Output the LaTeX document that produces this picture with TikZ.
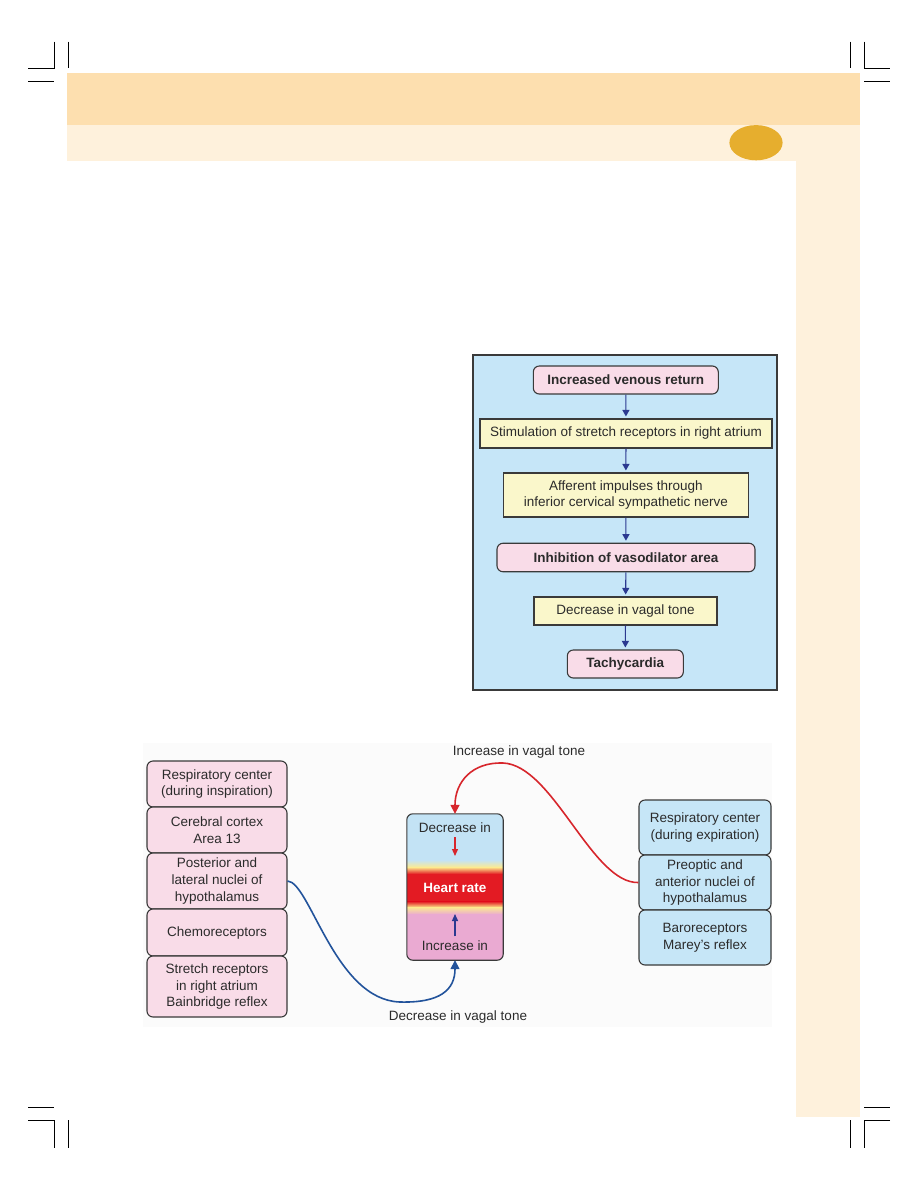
\documentclass[tikz,border=0pt]{standalone}
\usepackage{fontspec}
\setmainfont{Liberation Sans}
\usetikzlibrary{arrows.meta}
\definecolor{bandorange}{HTML}{FDDFAF}
\definecolor{bandlight}{HTML}{FEF1DC}
\definecolor{pagedot}{HTML}{E6AE2E}
\definecolor{framebg}{HTML}{C6E6F8}
\definecolor{boxpink}{HTML}{F9DCE8}
\definecolor{boxyellow}{HTML}{FAF7CB}
\definecolor{boxblue}{HTML}{C6E6F7}
\definecolor{boxline}{HTML}{3A3A3A}
\definecolor{textgray}{HTML}{2B2B2B}
\definecolor{flownavy}{HTML}{2B3990}
\definecolor{curvered}{HTML}{D7262C}
\definecolor{curveblue}{HTML}{22539B}
\definecolor{hrblue}{HTML}{C3E3F5}
\definecolor{hryellow}{HTML}{FDEB8E}
\definecolor{hrorange}{HTML}{F4A33A}
\definecolor{hrred}{HTML}{E31B23}
\definecolor{hrpink}{HTML}{EAAAD2}

\begin{document}
\begin{tikzpicture}[x=1pt,y=-1pt,
  every node/.style={font=\fontsize{13.5}{16.7}\selectfont, text=textgray, inner sep=0pt, align=center},
  pinkbox/.style={draw=boxline, line width=1.1pt, fill=boxpink, rounded corners=6pt},
  bluebox/.style={draw=boxline, line width=1.1pt, fill=boxblue, rounded corners=6pt},
  yellowbox/.style={draw=boxline, line width=1.1pt, fill=boxyellow},
  flowarrow/.style={draw=flownavy, line width=1.1pt, -{Triangle[width=7pt,length=6.5pt]}, shorten >=2pt},
  bigarrow/.style={line width=1.6pt, -{Triangle[width=9pt,length=9pt]}}]
   \useasboundingbox (0,0) rectangle (918,1188);
   \fill[white] (0,0) rectangle (918,1188);
   % page bands and crop marks
   \fill[bandorange] (67,72.7) rectangle (859.5,125.3);
   \fill[bandlight] (67,125.3) rectangle (859.5,160.5);
   \fill[bandlight] (796,160) rectangle (859.5,1117);
   \fill[pagedot] (756,142.7) ellipse (26.6 and 17.6);
   \draw[line width=0.7pt] (54.4,41.7) -- (54.4,68.3) -- (28,68.3) (67.9,41.7) -- (67.9,68.3) (28,81) -- (54,81);
   \draw[line width=0.7pt] (850.7,41.7) -- (850.7,68.3) (864.2,41.7) -- (864.2,68.3) -- (890,68.3) (864,81) -- (890,81);
   \draw[line width=0.7pt] (28,1107.3) -- (54,1107.3) (28,1120) -- (54.4,1120) -- (54.4,1148) (67.9,1120) -- (67.9,1148);
   \draw[line width=0.7pt] (864,1107.3) -- (890,1107.3) (850.7,1120) -- (850.7,1148) (890,1120) -- (864.2,1120) -- (864.2,1148);

   % flowchart
   \filldraw[fill=framebg, draw=boxline, line width=1.3pt] (473,355) rectangle (777,690);
   \node[pinkbox, minimum width=185pt, minimum height=28pt] (venous) at (625.8,380) {\bfseries Increased venous return};
   \node[yellowbox, minimum width=292pt, minimum height=29pt] (stretch) at (626,433.5) {Stimulation of stretch receptors in right atrium};
   \node[yellowbox, minimum width=245pt, minimum height=44pt] (afferent) at (625.8,495) {Afferent impulses through\\inferior cervical sympathetic nerve};
   \node[pinkbox, minimum width=258pt, minimum height=28.5pt] (inhib) at (626,557.5) {\bfseries Inhibition of vasodilator area};
   \node[yellowbox, minimum width=183pt, minimum height=28pt] (vagal) at (625.5,611) {Decrease in vagal tone};
   \node[pinkbox, minimum width=116pt, minimum height=28pt] (tachy) at (625.3,664) {\bfseries Tachycardia};
   \draw[flowarrow] (venous) -- (stretch);
   \draw[flowarrow] (stretch) -- (afferent);
   \draw[flowarrow] (afferent) -- (inhib);
   \draw[flowarrow] (inhib) -- (vagal);
   \draw[flowarrow] (vagal) -- (tachy);

   % heart rate figure
   \fill[black!1.5] (143,743) rectangle (772,1027);
   \node[pinkbox, minimum width=140pt, minimum height=46pt] (resp) at (217,784) {Respiratory center\\(during inspiration)};
   \node[pinkbox, minimum width=140pt, minimum height=46pt] (cortex) at (217,830) {Cerebral cortex\\Area 13};
   \node[pinkbox, minimum width=140pt, minimum height=56pt] (postnuc) at (217,881) {Posterior and\\lateral nuclei of\\hypothalamus};
   \node[pinkbox, minimum width=140pt, minimum height=47pt] (chemo) at (217,932.5) {Chemoreceptors};
   \node[pinkbox, minimum width=140pt, minimum height=61pt] (bain) at (217,986.5) {Stretch receptors\\in right atrium\\Bainbridge reflex};
   \node[bluebox, minimum width=132pt, minimum height=55pt] (respexp) at (705,827.5) {Respiratory center\\(during expiration)};
   \node[bluebox, minimum width=132pt, minimum height=55pt] (prenuc) at (705,882.5) {Preoptic and\\anterior nuclei of\\hypothalamus};
   \node[bluebox, minimum width=132pt, minimum height=55pt] (baro) at (705,937.5) {Baroreceptors\\Marey's reflex};

   \node[minimum width=96pt, minimum height=146pt] (heart) at (455,887) {};
   \begin{scope}
     \clip[rounded corners=6pt] (heart.north west) rectangle (heart.south east);
     \fill[hrblue] (407,814) rectangle (503,861);
     \shade[top color=hrblue, bottom color=hryellow] (407,860) rectangle (503,867.5);
     \shade[top color=hryellow, middle color=hrorange, bottom color=hrred] (407,867) rectangle (503,874);
     \fill[hrred] (407,873.5) rectangle (503,902);
     \shade[top color=hrred, middle color=hrorange, bottom color=hryellow] (407,901.5) rectangle (503,907.5);
     \shade[top color=hryellow, bottom color=hrpink] (407,907) rectangle (503,914.5);
     \fill[hrpink] (407,914) rectangle (503,960);
   \end{scope}
   \draw[boxline, line width=1.1pt, rounded corners=6pt] (heart.north west) rectangle (heart.south east);
   \node (dec) at (455,828) {Decrease in};
   \node[text=white, font=\fontsize{13.5}{16.7}\selectfont\bfseries] (hrate) at (455,888) {Heart rate};
   \node (inc) at (455,945.5) {Increase in};
   \coordinate (decend) at (455,856);
   \coordinate (incend) at (455,914);
   \draw[curvered, line width=1.3pt, -{Triangle[width=6pt,length=7pt]}] (dec.south) ++(0,4) -- (decend);
   \draw[flownavy, line width=1.3pt, -{Triangle[width=6pt,length=7pt]}] (inc.north) ++(0,-4) -- (incend);

   \draw[bigarrow, curvered] (prenuc.west) .. controls (592,884) and (553,765) .. (503,763)
      .. controls (472,762) and (455,782) .. (heart.north);
   \draw[bigarrow, curveblue] (postnuc.east) .. controls (310,882) and (335,1000) .. (400,1002)
      .. controls (440,1003) and (455,990) .. (heart.south);
   \node (inclabel) at (519,752) {Increase in vagal tone};
   \node (declabel) at (458,1017) {Decrease in vagal tone};
\end{tikzpicture}
\end{document}
